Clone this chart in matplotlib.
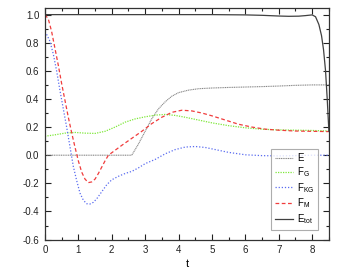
import matplotlib
matplotlib.use('Agg')
import matplotlib.pyplot as plt
from matplotlib.ticker import MultipleLocator

plt.rcParams['font.family'] = ['Liberation Sans', 'DejaVu Sans']
plt.rcParams['mathtext.fontset'] = 'custom'
plt.rcParams['mathtext.rm'] = 'Liberation Sans'

# values
t_E = [0, 2.6, 2.8, 3.0, 3.2, 3.4, 3.6, 3.8, 4.0, 4.3, 4.6, 5.0, 5.5, 6.0, 6.5, 7.0, 7.5, 8.0, 8.5]
E = [0, 0, 0.08, 0.17, 0.26, 0.33, 0.38, 0.42, 0.445, 0.463, 0.473, 0.478, 0.482, 0.485, 0.488, 0.492, 0.497, 0.5, 0.5]

t_G = [0, 0.3, 0.6, 0.9, 1.2, 1.5, 1.8, 2.1, 2.4, 2.7, 3.0, 3.3, 3.6, 3.9, 4.2, 4.6, 5.0, 5.5, 6.0, 6.5, 7.0, 7.5, 8.0, 8.5]
F_G = [0.135, 0.145, 0.157, 0.162, 0.157, 0.155, 0.17, 0.2, 0.235, 0.258, 0.273, 0.285, 0.29, 0.283, 0.27, 0.25, 0.23, 0.21, 0.195, 0.185, 0.18, 0.178, 0.176, 0.172]

t_KG = [0.05, 0.15, 0.25, 0.35, 0.45, 0.55, 0.65, 0.75, 0.85, 0.95, 1.05, 1.15, 1.25, 1.35, 1.45, 1.55,
        1.7, 1.85, 2.0, 2.2, 2.4, 2.6, 2.8, 3.0, 3.3, 3.6, 3.9, 4.2, 4.5, 4.8, 5.1, 5.5, 6.0, 6.5, 7.0, 7.5, 8.0, 8.5]
F_KG = [0.86, 0.81, 0.72, 0.6, 0.46, 0.33, 0.2, 0.06, -0.08, -0.18, -0.27, -0.32, -0.345, -0.347, -0.335, -0.31,
        -0.26, -0.21, -0.175, -0.15, -0.13, -0.115, -0.09, -0.06, -0.03, 0.01, 0.04, 0.058, 0.062, 0.055, 0.04, 0.02,
        0.003, -0.003, -0.005, -0.003, 0.0, 0.0]

t_M = [0, 0.1, 0.2, 0.3, 0.4, 0.5, 0.6, 0.7, 0.8, 0.9, 1.0, 1.1, 1.2, 1.3, 1.4, 1.5, 1.6, 1.7, 1.8, 1.9,
       2.1, 2.3, 2.6, 2.9, 3.2, 3.5, 3.8, 4.1, 4.4, 4.7, 5.0, 5.4, 5.8, 6.2, 6.6, 7.0, 7.5, 8.0, 8.5]
F_M = [1.0, 0.97, 0.88, 0.76, 0.64, 0.51, 0.39, 0.27, 0.16, 0.057, -0.04, -0.12, -0.17, -0.195, -0.19, -0.17,
       -0.13, -0.085, -0.04, 0.0, 0.035, 0.07, 0.12, 0.17, 0.225, 0.27, 0.305, 0.32, 0.315, 0.3, 0.28, 0.25,
       0.22, 0.2, 0.185, 0.178, 0.172, 0.17, 0.168]

t_tot = [0, 1, 2, 3, 4, 5, 6, 6.5, 7.0, 7.3, 7.6, 7.8, 8.0, 8.1, 8.2, 8.28, 8.34, 8.4, 8.45, 8.5]
E_tot = [1.0, 1.0, 1.0, 1.0, 1.0, 1.0, 0.998, 0.995, 0.99, 0.988, 0.989, 0.993, 0.998, 0.985, 0.93, 0.85, 0.75, 0.6, 0.4, 0.17]

fig = plt.figure(figsize=(3.51, 2.71), dpi=100)
ax = fig.add_axes([0.128, 0.116, 0.809, 0.856])

ax.plot(t_E, E, color='#888888', lw=0.8, ls=(0, (1, 0.6)), label='E')
ax.plot(t_G, F_G, color='#7fe83a', lw=0.9, ls=(0, (1, 1)), label=r'F$_{\mathrm{G}}$')
ax.plot(t_KG, F_KG, color='#5a6cf0', lw=0.9, ls=(0, (1, 1.5)), label=r'F$_{\mathrm{KG}}$')
ax.plot(t_M, F_M, color='#f03c3c', lw=0.9, ls=(0, (3, 2)), label=r'F$_{\mathrm{M}}$')
ax.plot(t_tot, E_tot, color='#404040', lw=0.9, label=r'E$_{\mathrm{tot}}$')

ax.set_xlim(0, 8.5)
ax.set_ylim(-0.6, 1.05)
ax.xaxis.set_major_locator(MultipleLocator(1))
ax.xaxis.set_minor_locator(MultipleLocator(0.5))
ax.yaxis.set_major_locator(MultipleLocator(0.2))
ax.yaxis.set_minor_locator(MultipleLocator(0.1))
ax.yaxis.set_major_formatter(plt.FuncFormatter(lambda v, p: f'{v:.1f}'))
ax.tick_params(which='both', direction='in', top=True, right=True, labelsize=7, width=0.8, colors='#222222')
ax.tick_params(which='major', length=4, pad=4)
ax.tick_params(which='minor', length=2)
for s in ax.spines.values():
    s.set_linewidth(0.9)
    s.set_color('#333333')

ax.set_xlabel('t', fontsize=8, labelpad=3)

leg = ax.legend(loc='lower right', fontsize=7, handlelength=1.9, frameon=True, fancybox=False,
                edgecolor='#999999', borderpad=0.4, labelspacing=0.2, handletextpad=0.4,
                bbox_to_anchor=(0.98, 0.02))
leg.get_frame().set_linewidth(0.8)

fig.savefig('out.png', dpi=100)
